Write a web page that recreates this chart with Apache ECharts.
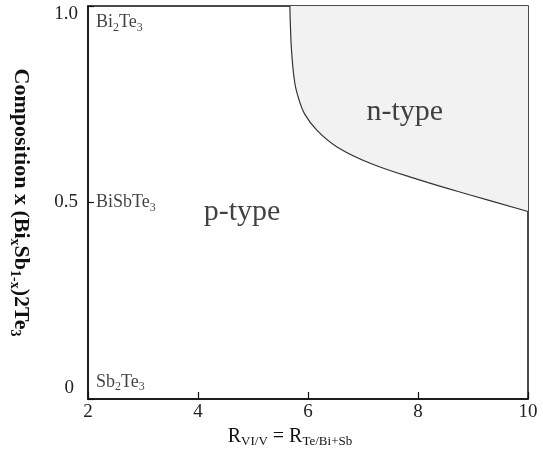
<!DOCTYPE html>
<html>
<head>
<meta charset="utf-8">
<script src="https://cdn.jsdelivr.net/npm/echarts@6/dist/echarts.min.js"></script>
<style>
html,body{margin:0;padding:0;background:#fff;}
#chart{width:543px;height:454px;}
</style>
</head>
<body>
<div id="chart"></div>
<script>
// ---- data ----
const xTicks = [2, 4, 6, 8, 10];
const yTicks = [0, 0.5, 1.0];
// p/n boundary curve (x = R_VI/V, y = composition x)
const boundaryX = [5.67, 5.68, 5.70, 5.76, 5.84, 5.94, 6.16, 6.52, 7.13, 8.04, 8.95, 10];
const boundaryY = [1.0, 0.95, 0.888, 0.804, 0.76, 0.725, 0.684, 0.642, 0.600, 0.557, 0.519, 0.477];
// compound labels placed along the left edge
const compoundNames = ['{n|Bi}{s|2}{n|Te}{s|3}', '{n|BiSbTe}{s|3}', '{n|Sb}{s|2}{n|Te}{s|3}'];
const compoundX = [2, 2, 2];
const compoundY = [0.958, 0.5, 0.043];
// region labels
const regionNames = ['n-type', 'p-type'];
const regionX = [7.76, 4.8];
const regionY = [0.73, 0.475];

const serif = '"Liberation Serif", "DejaVu Serif", serif';
const ink = '#111';
const subRich = {
  n: {fontFamily: serif, fontSize: 18, color: ink, lineHeight: 22, verticalAlign: 'middle'},
  s: {fontFamily: serif, fontSize: 12, color: ink, lineHeight: 12, verticalAlign: 'bottom'}
};

const chart = echarts.init(document.getElementById('chart'));
const option = {
  animation: false,
  backgroundColor: '#fff',
  grid: {left: 88, right: 15, top: 6, bottom: 55, show: true, borderColor: '#111', borderWidth: 1.5, containLabel: false, outerBoundsMode: 'none'},
  xAxis: {
    type: 'value', min: xTicks[0], max: xTicks[xTicks.length - 1], interval: 2,
    axisLine: {show: true, lineStyle: {color: '#111', width: 1.5}},
    axisTick: {show: true, inside: true, length: 7, lineStyle: {color: '#111', width: 1.2}},
    splitLine: {show: false},
    axisLabel: {fontFamily: serif, fontSize: 19, color: '#222', margin: 4},
    name: '{n|R}{s|VI/V}{n| = R}{s|Te/Bi+Sb}',
    nameLocation: 'middle', nameGap: 17,
    nameTextStyle: {
      padding: [0, 36, 0, 0],
      rich: {
        n: {fontFamily: serif, fontSize: 20, color: ink, lineHeight: 22, verticalAlign: 'middle'},
        s: {fontFamily: serif, fontSize: 13, color: ink, lineHeight: 12, verticalAlign: 'bottom'}
      }
    }
  },
  yAxis: {
    type: 'value', min: 0, max: 1, interval: 0.5,
    axisLine: {show: true, lineStyle: {color: '#111', width: 1.5}},
    axisTick: {show: true, inside: true, length: 6, lineStyle: {color: '#111', width: 1.2}},
    splitLine: {show: false},
    axisLabel: {
      margin: 10,
      formatter: function (v) {
        if (v === 1) return '{t|1.0}';
        if (v === 0) return '{b|0}';
        return '{m|' + v.toFixed(1) + '}';
      },
      rich: {
        t: {fontFamily: serif, fontSize: 19, color: '#222', padding: [16, 0, 0, 0]},
        m: {fontFamily: serif, fontSize: 19, color: '#222'},
        b: {fontFamily: serif, fontSize: 19, color: '#222', padding: [0, 4, 22, 0]}
      }
    },
    name: '{n|Composition x (Bi}{s|x}{n|Sb}{s|1-x}{n|)2Te}{s|3}',
    nameLocation: 'middle', nameRotate: -90, nameGap: 55,
    nameTextStyle: {
      padding: [0, 0, 0, 0],
      rich: {
        n: {fontFamily: serif, fontSize: 22, fontWeight: 'bold', color: ink, lineHeight: 25, verticalAlign: 'middle'},
        s: {fontFamily: serif, fontSize: 14, fontWeight: 'bold', color: ink, lineHeight: 13, verticalAlign: 'bottom'}
      }
    }
  },
  series: [
    {
      type: 'line',
      data: boundaryX.map((x, i) => [x, boundaryY[i]]),
      smooth: 0.4,
      smoothMonotone: 'none',
      symbol: 'none',
      lineStyle: {color: '#333', width: 1.2},
      areaStyle: {color: '#f2f2f2', opacity: 1, origin: 'end'},
      z: 2
    },
    {
      type: 'scatter',
      symbolSize: 0,
      data: compoundX.map((x, i) => ({value: [x, compoundY[i]], name: compoundNames[i]})),
      label: {
        show: true, position: 'right', distance: 8,
        formatter: p => p.name,
        rich: subRich
      },
      z: 3
    },
    {
      type: 'scatter',
      symbolSize: 0,
      data: regionX.map((x, i) => ({value: [x, regionY[i]], name: regionNames[i]})),
      label: {
        show: true, position: 'inside',
        formatter: p => p.name,
        fontFamily: serif, fontSize: 30, color: ink
      },
      z: 3
    }
  ]
};
chart.setOption(option);
</script>
</body>
</html>
